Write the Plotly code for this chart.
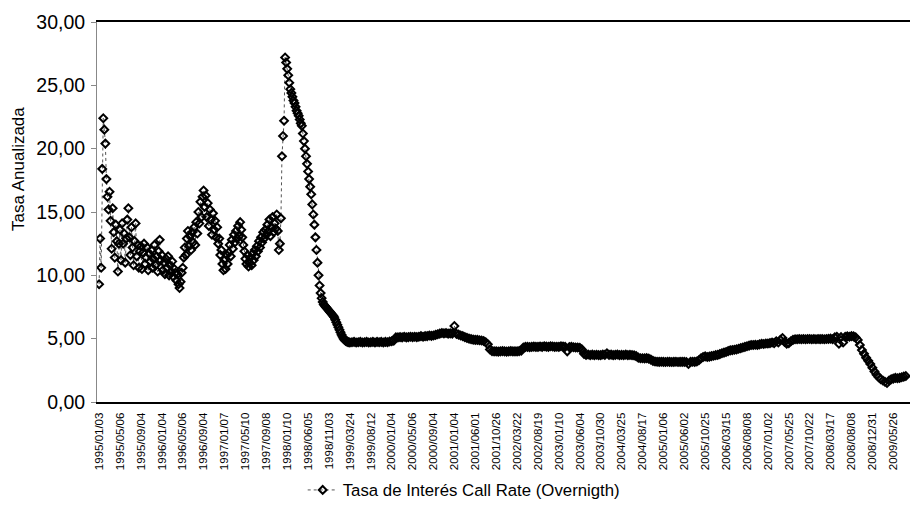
import plotly.graph_objects as go

tick_labels = [
    "1995/01/03", "1995/05/06", "1995/09/04", "1996/01/04", "1996/05/06", "1996/09/04",
    "1997/01/07", "1997/05/10", "1997/09/08", "1998/01/10", "1998/06/05", "1998/11/03",
    "1999/03/24", "1999/08/12", "2000/01/04", "2000/05/06", "2000/09/04", "2001/01/04",
    "2001/06/01", "2001/10/26", "2002/03/22", "2002/08/19", "2003/01/10", "2003/06/04",
    "2003/10/30", "2004/03/25", "2004/08/17", "2005/01/06", "2005/06/02", "2005/10/25",
    "2006/03/15", "2006/08/08", "2007/01/02", "2007/05/25", "2007/10/22", "2008/03/17",
    "2008/08/08", "2008/12/31", "2009/05/26",
]

# Call rate (annualised %).
# 1995/01 - 1999/03: 20 observations per labelled interval (volatile period)
rate_fine = [
    9.3, 12.9, 10.6, 18.4, 22.4, 21.5, 20.4, 17.6, 16.2, 15.2, 16.6, 14.3, 12.1, 15.3, 13.4, 11.4, 14.0, 12.7, 10.3, 12.5,
    13.6, 11.2, 14.1, 12.5, 13.3, 11.0, 12.9, 14.4, 15.3, 13.0, 11.6, 13.8, 12.2, 10.8, 12.7, 14.1, 11.5, 12.4, 10.6, 11.9,
    12.3, 10.5, 11.8, 12.5, 10.9, 11.4, 12.2, 10.4, 11.7, 11.1, 12.0, 10.6, 11.3, 12.4, 10.8, 11.5, 10.3, 11.9, 12.8, 11.2,
    11.6, 10.4, 11.0, 10.1, 11.3, 10.6, 11.5, 10.0, 10.8, 10.3, 11.1, 9.9, 10.5, 10.2, 9.6, 10.1, 9.3, 9.0, 9.5, 10.2,
    10.6, 11.4, 12.2, 11.6, 12.9, 13.5, 12.3, 13.1, 12.0, 13.4, 12.6, 13.8, 12.4, 14.2, 13.3, 15.0, 14.1, 15.8, 14.6, 16.2,
    16.7, 15.4, 16.3, 14.6, 15.7, 13.9, 15.2, 14.4, 13.2, 14.9, 13.6, 14.3, 13.0, 13.8, 12.5, 12.9, 11.6, 12.0, 10.9, 10.4,
    11.2, 10.5, 11.6, 10.9, 11.8, 12.4, 11.5, 12.8, 12.1, 13.2, 12.6, 13.5, 12.9, 13.9, 13.1, 14.2, 13.6, 13.0, 12.4, 11.9,
    11.3, 10.9, 11.6, 10.7, 11.0, 11.4, 10.8, 11.7, 11.2, 12.0, 11.5, 12.3, 11.9, 12.7, 12.2, 13.0, 12.6, 13.4, 12.9, 13.6,
    13.2, 14.0, 13.5, 14.4, 13.1, 13.8, 14.6, 13.4, 14.1, 13.7, 14.8, 13.5, 12.0, 12.5, 14.5, 19.4, 21.0, 22.2, 27.2, 26.8,
    26.3, 25.8, 25.2, 24.7, 24.4, 24.1, 23.8, 23.6, 23.3, 23.0, 22.8, 22.6, 22.3, 22.0, 21.8, 21.2, 20.6, 20.0, 19.4, 18.8,
    18.2, 17.6, 17.0, 16.4, 15.6, 14.8, 14.0, 13.0, 12.0, 11.0, 10.0, 9.2, 8.6, 8.2, 7.9, 7.7, 7.6, 7.5, 7.4, 7.3,
    7.2, 7.1, 7.0, 6.9, 6.8, 6.7, 6.5, 6.3, 6.1, 5.9, 5.7, 5.5, 5.3, 5.15, 5.0, 4.9, 4.82, 4.78, 4.75, 4.72,
]
# 1999/03 - 2009/09: 10 observations per labelled interval
rate_coarse = [
    4.7, 4.72, 4.75, 4.7, 4.72, 4.75, 4.7, 4.72, 4.75, 4.7,
    4.72, 4.75, 4.7, 4.75, 4.72, 4.75, 4.7, 4.75, 4.72, 4.78,
    4.8, 4.85, 5.1, 5.1, 5.12, 5.1, 5.15, 5.1, 5.12, 5.15,
    5.12, 5.15, 5.12, 5.15, 5.2, 5.15, 5.2, 5.2, 5.25, 5.22,
    5.25, 5.3, 5.35, 5.4, 5.45, 5.42, 5.45, 5.4, 5.42, 5.4,
    6.0, 5.38, 5.32, 5.25, 5.2, 5.12, 5.06, 5.0, 4.96, 4.92,
    4.9, 4.9, 4.88, 4.86, 4.82, 4.72, 4.55, 4.15, 4.02, 4.0,
    4.0, 3.98, 4.0, 4.02, 4.0, 3.98, 4.0, 4.02, 4.0, 4.0,
    4.0, 4.02, 4.05, 4.3, 4.35, 4.35, 4.33, 4.35, 4.37, 4.35,
    4.35, 4.38, 4.35, 4.4, 4.37, 4.35, 4.4, 4.38, 4.35, 4.36,
    4.35, 4.4, 4.38, 4.35, 4.0, 4.33, 4.35, 4.32, 4.3, 4.3,
    4.28, 4.15, 3.8, 3.72, 3.75, 3.7, 3.74, 3.7, 3.73, 3.7,
    3.7, 3.75, 3.72, 3.85, 3.72, 3.74, 3.7, 3.72, 3.75, 3.7,
    3.72, 3.7, 3.74, 3.7, 3.72, 3.7, 3.68, 3.62, 3.5, 3.45,
    3.45, 3.44, 3.46, 3.42, 3.35, 3.25, 3.2, 3.18, 3.17, 3.18,
    3.17, 3.16, 3.18, 3.17, 3.16, 3.17, 3.18, 3.16, 3.17, 3.17,
    3.17, 3.16, 3.0, 3.17, 3.18, 3.17, 3.2, 3.3, 3.45, 3.55,
    3.6, 3.55, 3.58, 3.62, 3.65, 3.7, 3.72, 3.78, 3.85, 3.9,
    3.95, 4.02, 4.08, 4.1, 4.12, 4.15, 4.2, 4.25, 4.3, 4.35,
    4.4, 4.45, 4.5, 4.5, 4.52, 4.5, 4.55, 4.6, 4.58, 4.62,
    4.62, 4.65, 4.7, 4.65, 4.8, 4.7, 4.9, 5.05, 4.75, 4.6,
    4.65, 4.8, 4.9, 4.95, 4.95, 4.97, 4.95, 4.97, 4.95, 4.97,
    4.97, 4.95, 4.97, 4.95, 4.97, 4.96, 4.97, 4.95, 4.97, 4.98,
    5.0, 4.95, 5.1, 5.15, 4.6, 5.12, 4.7, 5.15, 5.18, 5.15,
    5.2, 5.18, 5.1, 4.9, 4.5, 4.1, 3.8, 3.5, 3.25, 3.0,
    2.7, 2.4, 2.15, 1.95, 1.8, 1.7, 1.6, 1.5, 1.7, 1.8,
    1.85, 1.9, 1.88, 1.9, 1.95, 2.0, 2.05,
]

fine_per_label = 20
coarse_per_label = 10
fine_span = len(rate_fine) // fine_per_label
# x position of each observation, in units of labelled intervals
x_pos = [k / fine_per_label for k in range(len(rate_fine))] + \
        [fine_span + k / coarse_per_label for k in range(len(rate_coarse))]
rate = rate_fine + rate_coarse
tick_pos = list(range(len(tick_labels)))

fig = go.Figure()
fig.add_trace(go.Scatter(
    x=x_pos, y=rate, mode="lines+markers",
    name="Tasa de Interés Call Rate (Overnigth)",
    line=dict(color="#555555", width=1, dash="dot"),
    marker=dict(symbol="diamond-open", size=6, color="black", line=dict(width=2, color="black")),
))

font = "Liberation Sans, Arial, sans-serif"
fig.update_layout(
    width=910, height=517,
    margin=dict(l=97, r=0, t=22, b=115),
    paper_bgcolor="white", plot_bgcolor="white",
    separators=",.",
    font=dict(family=font, color="black"),
    showlegend=True,
    legend=dict(orientation="h", x=0.253, xanchor="left", y=-0.2316, yanchor="middle",
                font=dict(size=16.8, family=font, color="black"), itemwidth=30),
    xaxis=dict(range=[-0.1, 38.8], tickmode="array", tickvals=tick_pos, ticktext=tick_labels,
               tickangle=-90, tickfont=dict(size=11.5, family=font, color="black"),
               showline=True, linecolor="black", linewidth=2, mirror=True, automargin=False,
               ticks="", ticklabelstandoff=4, showgrid=False, zeroline=False),
    yaxis=dict(range=[0, 30], dtick=5, tickformat=".2f", automargin=False,
               tickfont=dict(size=19.5, family=font, color="black"),
               showline=True, linecolor="#888888", linewidth=1,
               ticks="outside", ticklen=5, tickcolor="#888888", ticklabelstandoff=2,
               showgrid=False, zeroline=False),
    annotations=[dict(text="Tasa Anualizada", textangle=-90, xref="paper", yref="paper",
                      x=-0.0972, y=0.613, xanchor="center", yanchor="middle", showarrow=False,
                      font=dict(size=17, family=font, color="black"))],
)

fig.write_html("out.html", config={"displayModeBar": False},
               post_script="document.body.style.margin='0px';")
